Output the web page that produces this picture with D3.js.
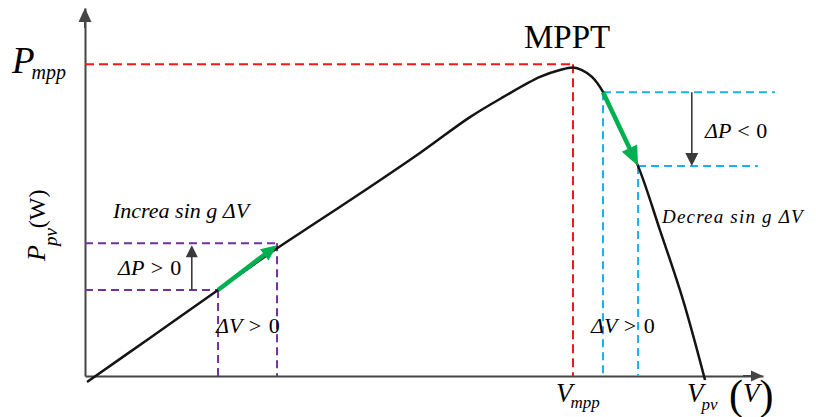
<!DOCTYPE html>
<html>
<head>
<meta charset="utf-8">
<script src="https://cdn.jsdelivr.net/npm/d3@7/dist/d3.min.js"></script>
<style>
  html, body { margin: 0; padding: 0; background: #fff; }
  svg { display: block; }
  text { font-family: "Liberation Serif", "Times New Roman", serif; fill: #000; }
</style>
</head>
<body>
<svg id="chart" width="816" height="417"></svg>
<script>
// P–V characteristic of a PV panel (voltage in V, power in W)
const voltage = [0.12, 3.83, 7.85, 10.91, 13.86, 16.81, 19.76, 22.71, 24.66, 26.84, 28.02, 28.79, 29.32, 29.91, 30.56, 31.56, 32.63, 33.92, 35.28, 36.58];
const power   = [-1.9, 12.2, 27.6, 39.4, 50.0, 60.6, 71.5, 83.0, 89.4, 95.9, 98.1, 98.9, 98.1, 95.9, 91.1, 79.2, 67.3, 46.8, 24.4, -1.3];

// Maximum power point
const vMpp = 28.79, pMpp = 100;

// Perturbation on the rising side: (V1,P1) -> (V2,P2)
const riseV = [7.85, 11.33];
const riseP = [27.6, 42.6];

// Perturbation on the falling side: (V3,P3) -> (V4,P4)
const fallV = [30.56, 32.63];
const fallP = [91.0, 67.3];

// Extent of the dashed guides to the right of the falling side
const fallGuideEnd = [40.7, 39.7];
// Voltage where the ΔP arrows are placed
const deltaArrowV = [6.3, 35.8];

const axisMax = { v: 40, p: 118 };

const svg = d3.select("#chart");
const x = d3.scaleLinear().domain([0, axisMax.v]).range([85, 763]);
const y = d3.scaleLinear().domain([0, axisMax.p]).range([376, 8]);

const COLORS = { curve: "#141414", axis: "#454545", red: "#f21818", purple: "#7030a0", blue: "#1ab0ee", green: "#00b050", dark: "#3a3a3a" };

// Line with a filled triangular head pointing from (x0,y0) towards (x1,y1)
function arrow(g, x0, y0, x1, y1, color, width, headLen, headW) {
  const dx = x1 - x0, dy = y1 - y0, L = Math.hypot(dx, dy);
  const ux = dx / L, uy = dy / L;
  const bx = x1 - ux * headLen, by = y1 - uy * headLen;
  g.append("line").attr("x1", x0).attr("y1", y0).attr("x2", bx + ux * 1).attr("y2", by + uy * 1)
    .attr("stroke", color).attr("stroke-width", width);
  g.append("path")
    .attr("d", `M${x1},${y1} L${bx - uy * headW / 2},${by + ux * headW / 2} L${bx + uy * headW / 2},${by - ux * headW / 2} Z`)
    .attr("fill", color);
}

function dashed(x1, y1, x2, y2, color, dash) {
  svg.append("line").attr("x1", x1).attr("y1", y1).attr("x2", x2).attr("y2", y2)
    .attr("stroke", color).attr("stroke-width", 2).attr("stroke-dasharray", dash);
}

// Axes (no ticks), with arrowheads
const axesG = svg.append("g");
const xAxis = d3.axisBottom(x).tickValues([]).tickSizeOuter(0);
axesG.append("g").attr("transform", `translate(0,${y(0)})`).call(xAxis)
  .select(".domain").attr("stroke", COLORS.axis).attr("stroke-width", 2);
const yAxis = d3.axisLeft(y).tickValues([]).tickSizeOuter(0);
axesG.append("g").attr("transform", `translate(${x(0)},0)`).call(yAxis)
  .select(".domain").attr("stroke", COLORS.axis).attr("stroke-width", 2);
arrow(axesG, x(0), y(axisMax.p) + 20, x(0), y(axisMax.p), COLORS.axis, 2, 14, 13);
arrow(axesG, x(axisMax.v) - 20, y(0), x(axisMax.v), y(0), COLORS.axis, 2, 12, 11);

// MPP guides
dashed(x(0), y(pMpp), x(vMpp), y(pMpp), COLORS.red, "9,5");
dashed(x(vMpp), y(pMpp), x(vMpp), y(0), COLORS.red, "9,5");

// Rising-side guides
dashed(x(0), y(riseP[0]), x(riseV[0]), y(riseP[0]), COLORS.purple, "8,5");
dashed(x(0), y(riseP[1]), x(riseV[1]), y(riseP[1]), COLORS.purple, "8,5");
dashed(x(riseV[0]), y(riseP[0]), x(riseV[0]), y(0), COLORS.purple, "8,5");
dashed(x(riseV[1]), y(riseP[1]), x(riseV[1]), y(0), COLORS.purple, "8,5");

// Falling-side guides
dashed(x(fallV[0]), y(fallP[0]), x(fallGuideEnd[0]), y(fallP[0]), COLORS.blue, "8,5");
dashed(x(fallV[1]), y(fallP[1]), x(fallGuideEnd[1]), y(fallP[1]), COLORS.blue, "8,5");
dashed(x(fallV[0]), y(fallP[0]), x(fallV[0]), y(0), COLORS.blue, "8,5");
dashed(x(fallV[1]), y(fallP[1]), x(fallV[1]), y(0), COLORS.blue, "8,5");

// P–V curve
const line = d3.line().x(d => x(d[0])).y(d => y(d[1])).curve(d3.curveCatmullRom.alpha(0.5));
svg.append("path").datum(voltage.map((v, i) => [v, power[i]]))
  .attr("d", line).attr("fill", "none").attr("stroke", COLORS.curve).attr("stroke-width", 2.5);

// Perturbation arrows
const arrowsG = svg.append("g");
arrow(arrowsG, x(riseV[0]), y(riseP[0]), x(riseV[1]), y(riseP[1]) + 2, COLORS.green, 4.5, 16, 14);
arrow(arrowsG, x(fallV[0]), y(fallP[0]), x(fallV[1]), y(fallP[1]), COLORS.green, 4.5, 20, 17);
arrow(arrowsG, x(deltaArrowV[0]), y(riseP[0]), x(deltaArrowV[0]), y(riseP[1]) + 2, COLORS.dark, 1.6, 12, 12);
arrow(arrowsG, x(deltaArrowV[1]), y(fallP[0]), x(deltaArrowV[1]), y(fallP[1]), COLORS.dark, 1.6, 13, 13);

// Labels
function label(xp, yp, parts, opts = {}) {
  const t = svg.append("text").attr("x", xp).attr("y", yp);
  if (opts.rotate) t.attr("transform", `rotate(${opts.rotate},${xp},${yp})`);
  parts.forEach(p => {
    const s = t.append("tspan").text(p.t).attr("font-size", p.size);
    if (p.italic) s.attr("font-style", "italic");
    if (p.dy) s.attr("dy", p.dy);
    if (p.dx) s.attr("dx", p.dx);
    if (p.ls) s.attr("letter-spacing", p.ls);
  });
  return t;
}

label(12, 73, [{ t: "P", size: 37, italic: true }, { t: "mpp", size: 20, italic: true, dy: 6, dx: -3 }]);
label(524, 48, [{ t: "MPPT", size: 33 }]);
label(113, 218, [{ t: "Increa sin g ", size: 22, italic: true }, { t: "ΔV", size: 22, italic: true }]);
label(118, 275, [{ t: "ΔP", size: 22, italic: true }, { t: " > 0", size: 22, ls: 0.8 }]);
label(216, 333, [{ t: "ΔV", size: 22, italic: true }, { t: " > 0", size: 22, ls: 1 }]);
label(591, 333, [{ t: "ΔV", size: 22, italic: true }, { t: " > 0", size: 22, ls: 1 }]);
label(705, 138, [{ t: "ΔP", size: 22, italic: true }, { t: " < 0", size: 22, ls: 0.5 }]);
label(662, 223, [{ t: "Decrea sin g  ΔV", size: 19, italic: true, ls: 1.2 }]);

// Axis titles
label(45, 261, [{ t: "P", size: 26, italic: true }, { t: "pv", size: 19, italic: true, dy: 12, dx: -1 }, { t: "(W)", size: 24, dy: -12 }], { rotate: -90 });
label(556, 402, [{ t: "V", size: 27, italic: true }, { t: "mpp", size: 17, italic: true, dy: 6, dx: -2 }]);
label(687, 402, [{ t: "V", size: 27, italic: true }, { t: "pv", size: 17, italic: true, dy: 8, dx: -2 }]);
label(729, 409, [{ t: "(", size: 42 }, { t: "V", size: 27, italic: true, dy: -7 }, { t: ")", size: 42, dy: 7 }]);
</script>
</body>
</html>
